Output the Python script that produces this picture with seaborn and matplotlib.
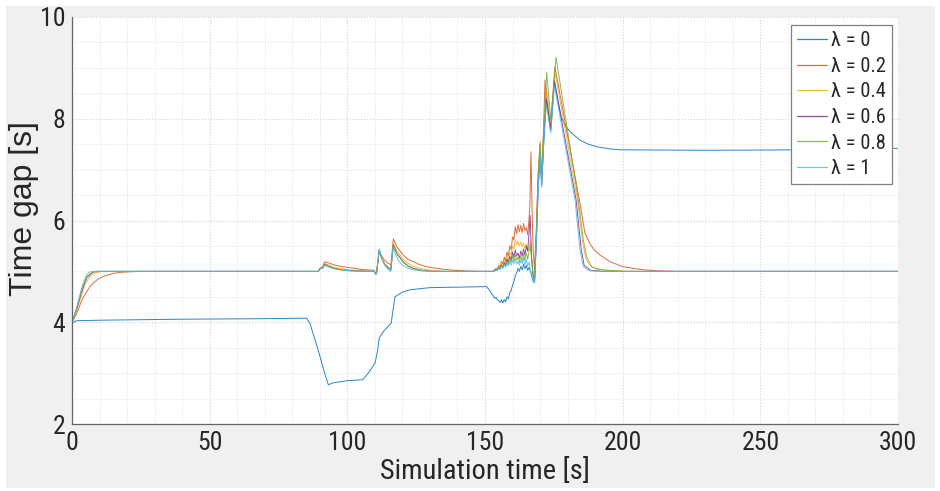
import matplotlib
matplotlib.use("Agg")
import matplotlib.pyplot as plt
from matplotlib import font_manager
from matplotlib.patches import Rectangle
from matplotlib.ticker import MultipleLocator
from matplotlib.lines import Line2D
import numpy as np
import pandas as pd
import seaborn as sns

# ---------------------------------------------------------------- data
labels = ["λ = 0", "λ = 0.2", "λ = 0.4", "λ = 0.6", "λ = 0.8", "λ = 1"]
colors = ["#0072BD", "#D95319", "#EDB120", "#7E2F8E", "#77AC30", "#4DBEEE"]

# common sampling of the disturbed interval (s)
t_noise = [152.0, 152.5, 153.0, 153.5, 154.0, 154.5, 155.0, 155.5, 156.0, 156.5,
           157.0, 157.5, 158.0, 158.5, 159.0, 159.5, 160.0, 160.5, 161.0, 161.5,
           162.0, 162.5, 163.0, 163.5, 164.0, 164.5, 165.0, 165.5, 166.0]

# lambda = 0
t_l0_head = [0, 1.5, 10, 40, 70, 85.2, 86.4, 88.3, 89.8, 91.6, 93.1, 94.9, 99.8,
             105.6, 107.6, 110.1, 111.0, 111.6, 113.1, 115.9, 117.3, 120.3, 123.0,
             126.4, 130.0, 140.0, 150.6]
gap_l0_head = [3.98, 4.03, 4.04, 4.06, 4.07, 4.08, 3.98, 3.65, 3.38, 3.03, 2.77, 2.81,
               2.85, 2.87, 3.00, 3.20, 3.45, 3.69, 3.82, 3.98, 4.50, 4.60, 4.64, 4.66,
               4.68, 4.69, 4.70]
gap_l0_noise = [4.60, 4.55, 4.52, 4.47, 4.49, 4.44, 4.43, 4.39, 4.44, 4.38, 4.45, 4.40,
                4.50, 4.46, 4.58, 4.62, 4.73, 4.80, 4.92, 4.97, 5.06, 5.00, 5.10, 5.03,
                5.14, 5.05, 5.12, 5.02, 5.08]
t_l0_tail = [166.5, 167.0, 167.5, 168.0, 168.6, 169.3, 170.0, 170.6, 171.3, 172.3,
             173.9, 175.2, 176.5, 177.6, 179.0, 181.0, 184.5, 187.5, 190.6, 195.0,
             199.0, 230.0, 270.0, 300.0]
gap_l0_tail = [5.00, 4.90, 4.80, 4.78, 5.50, 6.60, 7.30, 6.70, 7.50, 8.35, 7.78, 8.73,
               8.35, 8.05, 7.88, 7.74, 7.58, 7.50, 7.45, 7.41, 7.39, 7.38, 7.39, 7.42]

# lambda = 0.2
t_l02_head = [0, 1.5, 2.9, 4.0, 5.3, 6.5, 7.7, 9.5, 11.4, 13.0, 15.0, 17.5, 20.4, 25.0,
              89.5, 90.0, 91.0, 91.8, 93.0, 95.0, 97.5, 99.8, 102.5, 105.0, 107.5, 109.8,
              110.3, 110.6, 111.6, 112.5, 113.5, 114.8, 115.5, 115.8, 116.7, 118.0,
              120.3, 122.0, 124.0, 126.0, 128.8, 131.0, 133.7, 137.0, 142.0, 148.0]
gap_l02_head = [4.00, 4.15, 4.34, 4.48, 4.60, 4.70, 4.77, 4.85, 4.90, 4.93, 4.96, 4.98,
                4.99, 5.00, 5.00, 5.06, 5.09, 5.19, 5.17, 5.13, 5.10, 5.08, 5.06, 5.04,
                5.03, 5.02, 4.95, 4.97, 5.40, 5.30, 5.22, 5.16, 5.14, 5.12, 5.64, 5.48,
                5.32, 5.24, 5.19, 5.14, 5.09, 5.07, 5.05, 5.03, 5.01, 5.00]
gap_l02_noise = [5.00, 5.00, 5.01, 5.03, 5.06, 5.04, 5.12, 5.08, 5.20, 5.14, 5.28, 5.20,
                 5.38, 5.30, 5.50, 5.42, 5.68, 5.62, 5.88, 5.74, 5.92, 5.78, 5.90, 5.76,
                 5.94, 5.80, 5.86, 5.72, 6.05]
t_l02_tail = [166.3, 166.7, 167.1, 167.5, 168.0, 168.6, 169.3, 170.0, 170.6, 171.2,
              171.8, 173.7, 175.4, 184.3, 186.3, 188.1, 189.5, 191.8, 195.4, 200.2,
              206.3, 212.4, 220.0, 300.0]
gap_l02_tail = [6.30, 7.35, 6.20, 5.40, 5.05, 5.80, 6.90, 7.50, 6.85, 7.70, 8.76, 7.78,
                9.02, 6.40, 5.75, 5.55, 5.43, 5.32, 5.19, 5.09, 5.04, 5.01, 5.00, 5.00]

# lambda = 0.4
t_l04_head = [0, 2.0, 3.8, 4.7, 6.5, 8.5, 11.0, 89.5, 90.0, 91.0, 91.8, 93.0, 95.0,
              98.0, 101.0, 105.0, 109.8, 110.3, 110.6, 111.6, 112.5, 113.5, 114.8,
              115.5, 115.8, 116.7, 118.0, 120.3, 122.0, 124.0, 127.0, 131.0, 136.0]
gap_l04_head = [4.00, 4.28, 4.58, 4.75, 4.90, 4.97, 5.00, 5.00, 5.05, 5.07, 5.16, 5.13,
                5.08, 5.05, 5.03, 5.01, 5.00, 4.94, 4.96, 5.41, 5.27, 5.16, 5.09, 5.06,
                5.04, 5.56, 5.40, 5.24, 5.16, 5.10, 5.05, 5.02, 5.00]
gap_l04_noise = [5.00, 5.00, 5.01, 5.02, 5.05, 5.03, 5.09, 5.06, 5.15, 5.10, 5.21, 5.15,
                 5.30, 5.22, 5.38, 5.32, 5.50, 5.44, 5.62, 5.52, 5.60, 5.50, 5.58, 5.48,
                 5.56, 5.46, 5.54, 5.40, 5.45]
t_l04_tail = [166.5, 167.0, 167.5, 168.0, 168.6, 169.3, 170.0, 170.6, 171.3, 172.3,
              173.9, 175.5, 183.6, 185.5, 186.8, 189.0, 193.0, 198.0, 205.0, 300.0]
gap_l04_tail = [5.60, 5.20, 4.90, 4.84, 5.65, 6.80, 7.45, 6.75, 7.70, 8.60, 7.90, 8.90,
                6.40, 5.55, 5.22, 5.08, 5.03, 5.01, 5.00, 5.00]

# lambda = 0.6
t_l06_head = [0, 1.8, 3.6, 5.4, 7.5, 9.0, 89.5, 90.0, 91.0, 91.8, 93.0, 95.0, 98.0,
              101.0, 105.0, 109.8, 110.3, 110.6, 111.6, 112.5, 113.5, 114.8, 115.5,
              115.8, 116.7, 118.0, 120.3, 122.0, 124.0, 127.0, 131.0]
gap_l06_head = [4.00, 4.28, 4.62, 4.88, 4.98, 5.00, 5.00, 5.05, 5.06, 5.14, 5.11, 5.06,
                5.03, 5.015, 5.005, 5.00, 4.94, 4.96, 5.42, 5.25, 5.14, 5.07, 5.04, 5.02,
                5.52, 5.35, 5.19, 5.11, 5.06, 5.02, 5.00]
gap_l06_noise = [5.00, 5.00, 5.00, 5.02, 5.04, 5.02, 5.08, 5.05, 5.12, 5.08, 5.17, 5.12,
                 5.24, 5.16, 5.30, 5.22, 5.38, 5.28, 5.42, 5.30, 5.36, 5.26, 5.40, 5.30,
                 5.44, 5.32, 5.50, 5.40, 5.75]
t_l06_tail = [166.4, 166.9, 167.5, 168.0, 168.6, 169.3, 170.0, 170.6, 171.3, 172.2,
              173.9, 175.2, 183.1, 184.9, 186.0, 188.3, 193.0, 300.0]
gap_l06_tail = [6.10, 5.30, 4.88, 4.82, 5.60, 6.70, 7.35, 6.70, 7.60, 8.40, 7.80, 8.75,
                6.40, 5.45, 5.12, 5.02, 5.00, 5.00]

# lambda = 0.8
t_l08_head = [0, 1.8, 3.6, 5.4, 7.5, 9.0, 89.5, 90.0, 91.0, 91.8, 93.0, 95.0, 98.0,
              101.0, 105.0, 109.8, 110.3, 110.6, 111.6, 112.5, 113.5, 114.8, 115.5,
              115.8, 116.7, 118.0, 120.3, 122.0, 124.0, 127.0, 131.0]
gap_l08_head = [4.00, 4.30, 4.66, 4.90, 4.99, 5.00, 5.00, 5.05, 5.06, 5.13, 5.10, 5.06,
                5.03, 5.015, 5.005, 5.00, 4.94, 4.96, 5.43, 5.25, 5.13, 5.07, 5.04, 5.02,
                5.50, 5.34, 5.18, 5.10, 5.05, 5.02, 5.00]
gap_l08_noise = [5.00, 5.00, 5.00, 5.01, 5.04, 5.02, 5.07, 5.04, 5.11, 5.07, 5.15, 5.10,
                 5.20, 5.14, 5.25, 5.18, 5.30, 5.20, 5.32, 5.22, 5.28, 5.18, 5.30, 5.20,
                 5.34, 5.22, 5.36, 5.24, 5.40]
t_l08_tail = [166.5, 167.0, 167.5, 168.0, 168.6, 169.3, 170.0, 170.6, 171.3, 172.4,
              173.9, 175.8, 183.9, 185.7, 186.9, 188.7, 191.0, 194.2, 200.0, 300.0]
gap_l08_tail = [5.50, 5.20, 4.90, 4.85, 5.70, 6.90, 7.55, 6.80, 7.80, 8.91, 7.97, 9.21,
                6.40, 5.62, 5.29, 5.09, 5.04, 5.02, 5.00, 5.00]

# lambda = 1
t_l1_head = [0, 0.8, 1.7, 2.6, 3.5, 4.4, 5.3, 6.2, 7.2, 89.5, 90.0, 91.0, 91.8, 93.0,
             95.0, 98.0, 101.0, 105.0, 109.8, 110.3, 110.6, 111.5, 112.5, 113.5, 114.5,
             115.3, 115.6, 116.6, 117.5, 118.5, 120.0, 122.0, 124.0, 127.0, 130.0]
gap_l1_head = [4.00, 4.12, 4.28, 4.48, 4.67, 4.82, 4.93, 4.98, 5.00, 5.00, 5.05, 5.06,
               5.12, 5.09, 5.05, 5.025, 5.01, 5.00, 5.00, 4.94, 4.96, 5.44, 5.25, 5.13,
               5.06, 5.02, 4.99, 5.48, 5.33, 5.22, 5.12, 5.06, 5.03, 5.01, 5.00]
gap_l1_noise = [5.00, 5.00, 5.00, 5.01, 5.03, 5.02, 5.07, 5.04, 5.10, 5.06, 5.13, 5.08,
                5.16, 5.11, 5.19, 5.12, 5.22, 5.15, 5.24, 5.14, 5.20, 5.12, 5.22, 5.15,
                5.26, 5.13, 5.24, 5.10, 5.18]
t_l1_tail = [166.5, 167.0, 167.5, 168.0, 168.6, 169.3, 170.0, 170.6, 171.3, 172.2,
             173.9, 175.2, 182.7, 184.5, 185.7, 188.1, 192.0, 300.0]
gap_l1_tail = [5.02, 4.92, 4.82, 4.78, 5.50, 6.60, 7.30, 6.65, 7.50, 8.30, 7.72, 8.65,
               6.40, 5.42, 5.09, 5.01, 5.00, 5.00]

series = [
    (t_l0_head, gap_l0_head, gap_l0_noise, t_l0_tail, gap_l0_tail),
    (t_l02_head, gap_l02_head, gap_l02_noise, t_l02_tail, gap_l02_tail),
    (t_l04_head, gap_l04_head, gap_l04_noise, t_l04_tail, gap_l04_tail),
    (t_l06_head, gap_l06_head, gap_l06_noise, t_l06_tail, gap_l06_tail),
    (t_l08_head, gap_l08_head, gap_l08_noise, t_l08_tail, gap_l08_tail),
    (t_l1_head, gap_l1_head, gap_l1_noise, t_l1_tail, gap_l1_tail),
]

frames = []
for order, (label, (th, gh, gn, tt, gt)) in enumerate(zip(labels, series)):
    frames.append(pd.DataFrame({
        "time": list(th) + list(t_noise) + list(tt),
        "gap": list(gh) + list(gn) + list(gt),
        "lam": label,
        "order": order,
    }))
df = pd.concat(frames, ignore_index=True)


# ---------------------------------------------------------------- fonts
def first_font(names):
    for name in names:
        try:
            font_manager.findfont(font_manager.FontProperties(family=name),
                                  fallback_to_default=False)
            return name
        except Exception:
            continue
    return "DejaVu Sans"


narrow = first_font(["Liberation Sans Narrow", "Roboto Condensed", "Liberation Sans"])
regular = first_font(["Liberation Sans", "Arial", "DejaVu Sans"])

# ---------------------------------------------------------------- figure
sns.set_theme(style="white")
plt.rcParams["font.family"] = [narrow, "DejaVu Sans"]

fig = plt.figure(figsize=(9.4, 4.91), dpi=100)
fig.patch.set_facecolor("white")
fig.add_artist(Rectangle((6 / 940, 3 / 491), 929 / 940, 482 / 491,
                         transform=fig.transFigure, facecolor="#f0f0f0",
                         edgecolor="none", zorder=-10))

ax = fig.add_axes([72 / 940, (491 - 424) / 491, 826 / 940, 407 / 491])
ax.set_facecolor("white")

for label, color in zip(labels, colors):
    sub = df[df["lam"] == label]
    sns.lineplot(data=sub, x="time", y="gap", color=color, linewidth=0.7,
                 alpha=0.85, estimator=None, sort=False, ax=ax, legend=False)

ax.set_xlim(0, 300)
ax.set_ylim(2, 10)
ax.xaxis.set_major_locator(MultipleLocator(50))
ax.xaxis.set_minor_locator(MultipleLocator(10))
ax.yaxis.set_major_locator(MultipleLocator(2))
ax.yaxis.set_minor_locator(MultipleLocator(0.5))

ax.grid(True, which="major", color="#d2d2d2", linestyle=":", linewidth=0.8)
ax.grid(True, which="minor", color="#e2e2e2", linestyle=":", linewidth=0.7)
ax.set_axisbelow(True)

for side in ("top", "right"):
    ax.spines[side].set_visible(False)
for side in ("left", "bottom"):
    ax.spines[side].set_color("#666666")
    ax.spines[side].set_linewidth(0.9)

ax.tick_params(axis="both", which="major", direction="in", length=6, width=0.8,
               color="#666666", labelsize=18.5, labelcolor="#262626", pad=5)
ax.tick_params(axis="both", which="minor", length=0)

ax.set_xlabel("Simulation time [s]", fontsize=20.5, color="#262626", labelpad=2)
ax.set_ylabel("Time gap [s]", fontsize=23, color="#262626",
              family=[regular, "DejaVu Sans"])
ax.yaxis.set_label_coords(-0.040, 0.53)

handles = [Line2D([], [], color=c, linewidth=0.9, alpha=0.85) for c in colors]
leg = ax.legend(handles, labels, loc="upper right",
                bbox_to_anchor=((892 - 72) / 826, (424 - 25) / 407),
                borderaxespad=0, fontsize=14.8, frameon=True, fancybox=False,
                framealpha=1, edgecolor="#808080", handlelength=1.45,
                handletextpad=0.2, labelspacing=0.32, borderpad=0.3)
leg.get_frame().set_linewidth(0.9)

fig.savefig("out.png", dpi=100, facecolor=fig.get_facecolor())
